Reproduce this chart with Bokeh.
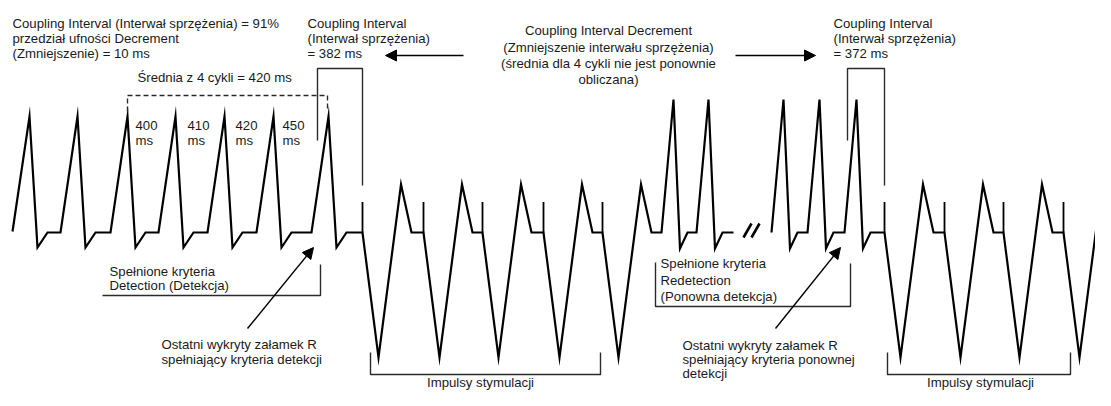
from bokeh.plotting import figure
from bokeh.models import Range1d, ColumnDataSource, Arrow, NormalHead
from bokeh.core.properties import value
from bokeh.embed import file_html
from bokeh.resources import INLINE

# ---------------- data ----------------
sinus_peaks = [29, 77, 127, 175, 224, 273, 328]          # R peaks before detection
pace1_spikes = [362, 423, 482, 543, 602]                  # first ATP burst
redetect_peaks_a = [673, 708]                             # fast beats before break
redetect_peaks_b = [783, 819, 856]                        # fast beats after break
pace2_spikes = [884, 944, 1003, 1063]                     # second ATP burst
interval_values = ["400", "410", "420", "450"]
interval_x = [135, 187, 235, 282]

# signal levels
BASE = 232
SIN_TOP, SIN_TROUGH = 116, 247
FAST_TOP, FAST_TROUGH = 99, 248
PACE_TOP, PACE_BOTTOM = 184, 357
TICK_TOP = 201.5

FONT = value("Liberation Sans")
FS = "13.2px"
TXT = "#1a1a1a"
BR = "#2a2a2a"


def sinus(peaks, start):
    xs, ys = [start], [BASE - 1]
    for i, pk in enumerate(peaks):
        if i:
            xs.append(pk - 17); ys.append(BASE)
        xs += [pk, pk + 8, pk + 18]
        ys += [SIN_TOP, SIN_TROUGH, BASE]
    return xs, ys


def fast(peaks):
    xs, ys = [], []
    for pk in peaks:
        xs.append(pk - 12); ys.append(BASE)
        xs += [pk, pk + 6.5, pk + 14]
        ys += [FAST_TOP, FAST_TROUGH, BASE]
    return xs, ys


def pace(spikes):
    xs, ys = [], []
    for s in spikes:
        xs += [s, s + 16, s + 38.5, s + 49]
        ys += [BASE, PACE_BOTTOM, PACE_TOP, BASE]
    return xs, ys


# segment before the break
x1, y1 = sinus(sinus_peaks, 12)
px, py = pace(pace1_spikes)
fx, fy = fast(redetect_peaks_a)
seg1_x = x1 + px + fx + [733]
seg1_y = y1 + py + fy + [BASE]

# segment after the break
fx2, fy2 = fast(redetect_peaks_b)
px2, py2 = pace(pace2_spikes)
seg2_x = fx2 + px2
seg2_y = fy2 + py2
seg2_x.append(pace2_spikes[-1] + 60)
seg2_y.append(BASE)

p = figure(width=1095, height=390, output_backend="svg", toolbar_location=None,
           x_range=Range1d(0, 1095), y_range=Range1d(390, 0),
           min_border=0, outline_line_color=None, background_fill_color="white",
           border_fill_color="white")
p.xaxis.visible = False
p.yaxis.visible = False
p.grid.visible = False

# waveform
p.line(seg1_x, seg1_y, line_color="black", line_width=2.2, line_join="miter")
p.line(seg2_x, seg2_y, line_color="black", line_width=2.2, line_join="miter")

# pacing ticks
all_spikes = pace1_spikes + pace2_spikes
p.segment(x0=all_spikes, y0=[TICK_TOP] * len(all_spikes), x1=all_spikes,
          y1=[BASE] * len(all_spikes), line_color="black", line_width=1.8)

# break marks //
p.segment(x0=[743, 751], y0=[237, 237], x1=[751, 759], y1=[223, 223],
          line_color="black", line_width=2.6)

# brackets
p.multi_line(
    xs=[[317, 317, 362, 362], [847, 847, 884, 884],
        [102, 320, 320], [655, 655, 850, 850],
        [370, 370, 600, 600], [887, 887, 1070, 1070]],
    ys=[[140, 68, 68, 185], [140, 68, 68, 185],
        [295, 295, 264], [262, 306, 306, 263],
        [352, 374, 374, 352], [352, 374, 374, 352]],
    line_color=BR, line_width=1.4)

# dashed average bracket
p.line([127, 127, 327, 327], [111, 95, 95, 111], line_color=BR, line_width=1.4,
       line_dash="5 3")

# arrows
arrow_x0 = [463, 735, 247, 775]
arrow_y0 = [55, 55, 328, 328]
arrow_x1 = [385, 815, 313, 840]
arrow_y1 = [55, 55, 247, 247]
for a, b, c, d in zip(arrow_x0, arrow_y0, arrow_x1, arrow_y1):
    p.add_layout(Arrow(end=NormalHead(size=11, fill_color="black", line_color="black",
                                      line_width=1),
                       x_start=a, y_start=b, x_end=c, y_end=d,
                       line_color="black", line_width=1.4))

# left-aligned texts
left_txt = [
    ("Coupling Interval (Interwał sprzężenia) = 91%", 12, 23),
    ("przedział ufności Decrement", 12, 38),
    ("(Zmniejszenie) = 10 ms", 12, 53),
    ("Coupling Interval", 307, 23),
    ("(Interwał sprzężenia)", 307, 38),
    ("= 382 ms", 307, 53),
    ("Średnia z 4 cykli = 420 ms", 137, 77),
    ("Coupling Interval", 833, 23),
    ("(Interwał sprzężenia)", 833, 38),
    ("= 372 ms", 833, 53),
    ("Spełnione kryteria", 109, 271),
    ("Detection (Detekcja)", 109, 285),
    ("Ostatni wykryty załamek R", 161, 344),
    ("spełniający kryteria detekcji", 161, 359),
    ("Spełnione kryteria", 660, 263),
    ("Redetection", 660, 280),
    ("(Ponowna detekcja)", 660, 296),
    ("Ostatni wykryty załamek R", 682, 345),
    ("spełniający kryteria ponownej", 682, 359),
    ("detekcji", 682, 373),
]
for v, x in zip(interval_values, interval_x):
    left_txt.append((v, x, 125))
    left_txt.append(("ms", x, 140))

src_l = ColumnDataSource(dict(t=[a[0] for a in left_txt], x=[a[1] for a in left_txt],
                              y=[a[2] for a in left_txt]))
p.text(x="x", y="y", text="t", source=src_l, text_font=FONT, text_font_size=FS,
       text_color=TXT, text_align="left", text_baseline="middle")

center_txt = [
    ("Coupling Interval Decrement", 608, 30),
    ("(Zmniejszenie interwału sprzężenia)", 608, 46.5),
    ("(średnia dla 4 cykli nie jest ponownie", 608, 63),
    ("obliczana)", 608, 79),
    ("Impulsy stymulacji", 480, 382),
    ("Impulsy stymulacji", 980, 382),
]
src_c = ColumnDataSource(dict(t=[a[0] for a in center_txt], x=[a[1] for a in center_txt],
                              y=[a[2] for a in center_txt]))
p.text(x="x", y="y", text="t", source=src_c, text_font=FONT, text_font_size=FS,
       text_color=TXT, text_align="center", text_baseline="middle")

open("out.html", "w").write(file_html(p, INLINE))
